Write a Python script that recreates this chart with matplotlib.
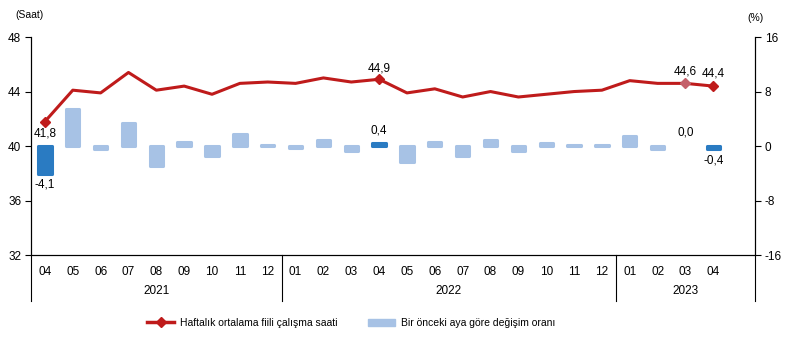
import matplotlib
matplotlib.use("Agg")
import matplotlib.pyplot as plt
from matplotlib.lines import Line2D
from matplotlib.patches import Patch
import numpy as np

plt.rcParams['font.family'] = ['Liberation Sans', 'DejaVu Sans']

# data
months = ['04', '05', '06', '07', '08', '09', '10', '11', '12',
          '01', '02', '03', '04', '05', '06', '07', '08', '09', '10', '11', '12',
          '01', '02', '03', '04']
years = ['2021', '2022', '2023']
hours = [41.8, 44.1, 43.9, 45.4, 44.1, 44.4, 43.8, 44.6, 44.7,
         44.6, 45.0, 44.7, 44.9, 43.9, 44.2, 43.6, 44.0, 43.6, 43.8, 44.0, 44.1,
         44.8, 44.6, 44.6, 44.4]
change = [-4.1, 5.4, -0.5, 3.4, -2.9, 0.6, -1.5, 1.8, 0.2,
          -0.3, 0.9, -0.7, 0.4, -2.3, 0.6, -1.4, 0.9, -0.7, 0.5, 0.2, 0.2,
          1.5, -0.4, 0.0, -0.4]

line_col = '#BF1B1B'
bar_light = '#A7C2E5'
bar_dark = '#2A7BC2'

x = np.arange(len(months))
dark_idx = [0, 12, 24]
bar_cols = [bar_dark if i in dark_idx else bar_light for i in x]
# a zero bar has no visible outline
bar_lw = [0 if v == 0 else 2.2 for v in change]

fig = plt.figure(figsize=(7.89, 3.40), dpi=100)
ax = fig.add_axes([0.0393, 0.25, 0.9177, 0.641])
ax2 = ax.twinx()

# bars on the right axis
ax2.bar(x, change, width=0.48, color=bar_cols, edgecolor=bar_cols,
        linewidth=bar_lw, joinstyle='round', zorder=2)
ax2.set_ylim(-16, 16)
ax2.set_yticks([-16, -8, 0, 8, 16])
ax2.set_yticklabels(['-16', '-8', '0', '8', '16'])

# line on the left axis, drawn above the bars
ax.set_zorder(ax2.get_zorder() + 1)
ax.patch.set_visible(False)
ax.plot(x, hours, color=line_col, linewidth=2.2, zorder=3)
for i in [0, 12, 24]:
    ax.plot(x[i], hours[i], marker='D', markersize=5, color=line_col, zorder=4)
ax.plot(x[23], hours[23], marker='D', markersize=5, color='#C4606A', zorder=4)

ax.set_ylim(32, 48)
ax.set_yticks([32, 36, 40, 44, 48])
ax.set_xlim(-0.5, 25.5)
ax.set_xticks(x)
ax.set_xticklabels(months)

for a in (ax, ax2):
    a.spines['top'].set_visible(False)
    a.tick_params(axis='y', labelsize=8.5, length=4, width=0.8, pad=3)
ax.tick_params(axis='x', length=0, labelsize=8.5, pad=8)
ax.spines['left'].set_linewidth(0.8)
ax2.spines['right'].set_linewidth(0.8)
ax.spines['bottom'].set_linewidth(0.8)

# year separators and labels
tr = ax.get_xaxis_transform()
for sx in [-0.5, 8.5, 20.5, 25.5]:
    ax.add_line(Line2D([sx, sx], [0, -0.21], transform=tr, color='black',
                       linewidth=0.8, clip_on=False))
for xc, yr in zip([4, 14.5, 23], years):
    ax.text(xc, -0.165, yr, transform=tr, ha='center', va='center', fontsize=8.5)

# value labels
fs = 8.5
ax.text(x[0], hours[0] - 0.45, '41,8', ha='center', va='top', fontsize=fs)
ax.text(x[12], hours[12] + 0.35, '44,9', ha='center', va='bottom', fontsize=fs)
ax.text(x[23], hours[23] + 0.4, '44,6', ha='center', va='bottom', fontsize=fs)
ax.text(x[24], hours[24] + 0.45, '44,4', ha='center', va='bottom', fontsize=fs)
ax2.text(x[0], change[0] - 0.7, '-4,1', ha='center', va='top', fontsize=fs)
ax2.text(x[12], change[12] + 1.0, '0,4', ha='center', va='bottom', fontsize=fs)
ax2.text(x[23], change[23] + 1.1, '0,0', ha='center', va='bottom', fontsize=fs)
ax2.text(x[24], change[24] - 0.9, '-0,4', ha='center', va='top', fontsize=fs)

fig.text(0.038, 0.955, '(Saat)', ha='center', va='center', fontsize=7.5)
fig.text(0.958, 0.947, '(%)', ha='center', va='center', fontsize=7.5)

handles = [Line2D([0], [0], color=line_col, linewidth=2.5, marker='D', markersize=5),
           Patch(facecolor=bar_light, edgecolor=bar_light)]
labels = ['Haftalık ortalama fiili çalışma saati', 'Bir önceki aya göre değişim oranı']
fig.legend(handles, labels, loc='center', bbox_to_anchor=(0.445, 0.05), ncol=2,
           frameon=False, fontsize=7.5, columnspacing=3.0, handlelength=2.6,
           handletextpad=0.5)

fig.savefig('out.png', dpi=100)
